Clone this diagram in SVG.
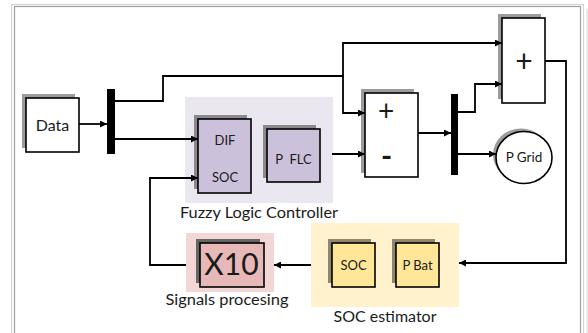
<svg xmlns="http://www.w3.org/2000/svg" width="588" height="333" viewBox="0 0 588 333">
<defs>
<style>
.t{font-family:Lato,"Open Sans","Liberation Sans",sans-serif;fill:#1a1a1a;text-anchor:middle}
.box{stroke:#000;stroke-width:1.6}
.ln{fill:none;stroke:#000;stroke-width:1.8}
</style>
<marker id="ah" viewBox="0 0 10 10" refX="10" refY="5" markerWidth="10" markerHeight="7" markerUnits="userSpaceOnUse" orient="auto">
<path d="M0,0 L10,5 L0,10 z" fill="#000"/>
</marker>
</defs>
<rect width="588" height="333" fill="#fff"/>
<g id="frame" fill="none">
<rect x="11.5" y="4.5" width="572" height="340" stroke="#d4d4d4" stroke-width="1.2"/>
<rect x="14.5" y="6.5" width="566" height="340" stroke="#a0a0a0" stroke-width="1.2"/>
<line x1="587" y1="9" x2="587" y2="333" stroke="#dcdcdc" stroke-width="1"/>
</g>
<g id="flc-group">
<rect x="185" y="97" width="148" height="106" fill="#ebe7f0"/>
<text class="t" x="259" y="218" font-size="15.5" textLength="158" lengthAdjust="spacingAndGlyphs">Fuzzy Logic Controller</text>
</g>
<g id="soc-est-group">
<rect x="311" y="223" width="148" height="84" fill="#fff2cc"/>
<text class="t" x="385" y="322" font-size="15.5" textLength="103" lengthAdjust="spacingAndGlyphs">SOC estimator</text>
</g>
<g id="sig-group">
<rect x="186" y="233" width="88" height="59" fill="#f2d7d6"/>
<text class="t" x="227" y="305" font-size="15.5" textLength="123" lengthAdjust="spacingAndGlyphs">Signals procesing</text>
</g>
<g id="data">
<rect x="22" y="94" width="53" height="54" fill="#9c9c9c"/>
<rect class="box" x="26" y="98" width="53" height="54" fill="#fff"/>
<text class="t" x="52.5" y="131" font-size="16">Data</text>
</g>
<g id="bar1"><rect x="107" y="89" width="8" height="65" fill="#000"/></g>
<g id="dif-soc">
<rect x="194" y="115" width="53" height="74" fill="#8a8a8a"/>
<rect class="box" x="198" y="119" width="53" height="74" fill="#ccc1da"/>
<text class="t" x="225" y="144.5" font-size="13">DIF</text>
<text class="t" x="225" y="181.5" font-size="13">SOC</text>
</g>
<g id="pflc">
<rect x="263" y="125" width="53" height="53" fill="#8a8a8a"/>
<rect class="box" x="267" y="129" width="53" height="53" fill="#ccc1da"/>
<text class="t" x="293.5" y="163.5" font-size="13" xml:space="preserve">P  FLC</text>
</g>
<g id="sum1">
<rect x="361" y="89" width="53" height="84" fill="#9c9c9c"/>
<rect class="box" x="365" y="93" width="53" height="84" fill="#fff"/>
<text class="t" x="386" y="121" font-size="28" font-family="Liberation Sans">+</text>
<text class="t" x="386.5" y="167" font-size="30" font-weight="bold" font-family="Liberation Sans">-</text>
</g>
<g id="bar2"><rect x="451" y="94" width="7" height="81" fill="#000"/></g>
<g id="sum2">
<rect x="498" y="14" width="43" height="85" fill="#9c9c9c"/>
<rect class="box" x="502" y="18" width="43" height="85" fill="#fff"/>
<text class="t" x="524" y="72" font-size="30" font-family="Liberation Sans">+</text>
</g>
<g id="pgrid">
<ellipse cx="521" cy="154.5" rx="28" ry="26" fill="#9c9c9c"/>
<ellipse class="box" cx="524" cy="157.5" rx="28" ry="26" fill="#fff"/>
<text class="t" x="524" y="162" font-size="13.5">P Grid</text>
</g>
<g id="soc">
<rect x="328" y="239" width="43" height="44" fill="#8f8670"/>
<rect class="box" x="332" y="243" width="43" height="44" fill="#ffe699"/>
<text class="t" x="353.5" y="270" font-size="13">SOC</text>
</g>
<g id="pbat">
<rect x="392" y="239" width="43" height="44" fill="#8f8670"/>
<rect class="box" x="396" y="243" width="43" height="44" fill="#ffe699"/>
<text class="t" x="417.5" y="270" font-size="13">P Bat</text>
</g>
<g id="x10">
<rect x="196" y="239" width="64" height="44" fill="#666"/>
<rect class="box" x="200" y="243" width="64" height="44" fill="#e6b8b7"/>
<text class="t" x="231.5" y="274.5" font-size="30">X10</text>
</g>
<g id="connectors" class="ln">
<path class="ln" d="M79,124 H107" marker-end="url(#ah)"/>
<path class="ln" d="M115,101 H163 V76 H343 V43 H502" marker-end="url(#ah)"/>
<path class="ln" d="M343,76 V113 H365" marker-end="url(#ah)"/>
<path class="ln" d="M115,139 H198" marker-end="url(#ah)"/>
<path class="ln" d="M186,265 H150 V178 H198" marker-end="url(#ah)"/>
<path class="ln" d="M332,154 H365" marker-end="url(#ah)"/>
<path class="ln" d="M418,133 H451" marker-end="url(#ah)"/>
<path class="ln" d="M458,112 H475 V84 H502" marker-end="url(#ah)"/>
<path class="ln" d="M458,154 H496" marker-end="url(#ah)"/>
<path class="ln" d="M545,61 H566 V263 H459" marker-end="url(#ah)"/>
<path class="ln" d="M311,265 H274" marker-end="url(#ah)"/>
</g>
</svg>
